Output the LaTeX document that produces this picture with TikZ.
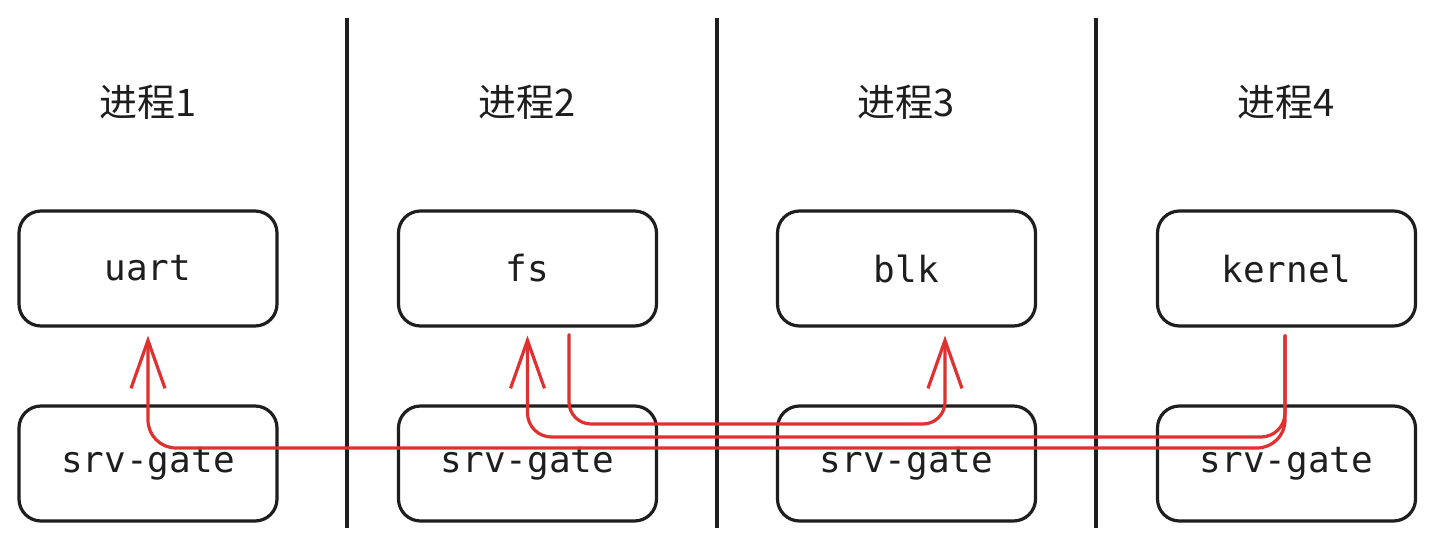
\documentclass[tikz,border=0pt]{standalone}
\usepackage{fontspec}
\setmonofont{DejaVu Sans Mono}
\newfontfamily\cjk{Noto Sans CJK SC}
\usetikzlibrary{arrows.meta}
\definecolor{ink}{HTML}{1E1E1E}
\definecolor{redline}{HTML}{E03131}
\begin{document}
\begin{tikzpicture}[x=1pt,y=-1pt,
  procbox/.style={draw=ink, line width=3.2pt, rounded corners=22pt,
    minimum width=258pt, minimum height=115pt, inner sep=0pt,
    font=\ttfamily\fontsize{36}{42}\selectfont, text=ink},
  title/.style={font=\cjk\fontsize{38}{44}\selectfont, text=ink},
  divider/.style={draw=ink, line width=3.2pt},
  msg/.style={draw=redline, line width=3.2pt, line cap=round, line join=round,
    -{Straight Barb[length=48pt,width=34pt,line width=3.2pt]}},
]
\useasboundingbox[fill=white] (0,0) rectangle (1433,548);

% dividers
\coordinate (d1t) at (347,18);  \coordinate (d1b) at (347,528);
\coordinate (d2t) at (717,18);  \coordinate (d2b) at (717,528);
\coordinate (d3t) at (1096,18); \coordinate (d3b) at (1096,528);
\draw[divider] (d1t) -- (d1b);
\draw[divider] (d2t) -- (d2b);
\draw[divider] (d3t) -- (d3b);

% titles
\node[title] (t1) at (148,102) {进程1};
\node[title] (t2) at (527.5,102) {进程2};
\node[title] (t3) at (906.5,102) {进程3};
\node[title] (t4) at (1286.5,102) {进程4};

% top boxes
\node[procbox] (uart)   at (148,268.5)    {uart};
\node[procbox] (fs)     at (527.5,268.5)  {fs};
\node[procbox] (blk)    at (906.5,268.5)  {blk};
\node[procbox] (kernel) at (1286.5,268.5) {kernel};

% bottom boxes
\node[procbox] (g1) at (148,463.5)    {srv-gate};
\node[procbox] (g2) at (527.5,463.5)  {srv-gate};
\node[procbox] (g3) at (906.5,463.5)  {srv-gate};
\node[procbox] (g4) at (1286.5,463.5) {srv-gate};

% route levels
\coordinate (l1) at (0,424);
\coordinate (l2) at (0,437);
\coordinate (l3) at (0,448);

% connector ends
\coordinate (fsout) at ([xshift=41.5pt,yshift=-7pt]fs.south);
\coordinate (blkin) at ([xshift=38.5pt,yshift=-8pt]blk.south);
\coordinate (kout)  at ([xshift=-1.5pt,yshift=-8pt]kernel.south);
\coordinate (fsin)  at ([yshift=-8pt]fs.south);
\coordinate (uin)   at ([yshift=-8pt]uart.south);

% messages
\draw[msg, rounded corners=22pt] (fsout) -- (fsout |- l1) -- (blkin |- l1) -- (blkin);
\draw[msg, rounded corners=24pt] (kout) -- (kout |- l2) -- (fsin |- l2) -- (fsin);
\draw[msg, rounded corners=28pt] (kout) -- (kout |- l3) -- (uin |- l3) -- (uin);
\end{tikzpicture}
\end{document}
